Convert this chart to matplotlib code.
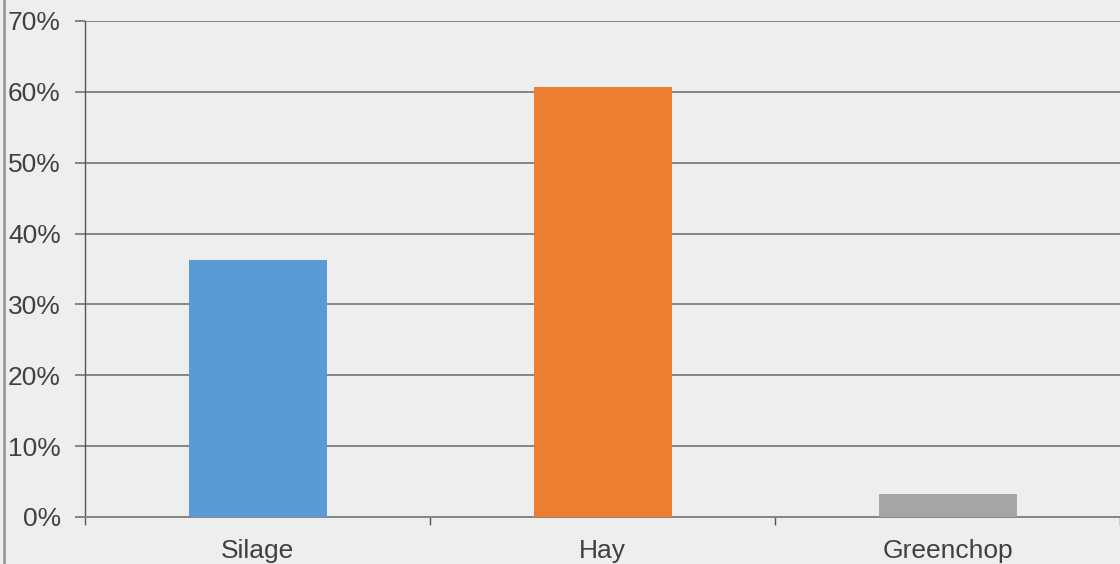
import matplotlib.pyplot as plt
from matplotlib.lines import Line2D
from matplotlib.ticker import FuncFormatter

# Data
categories = ["Silage", "Hay", "Greenchop"]
shares = [36.3, 60.7, 3.25]
colors = ["#5b9bd5", "#ed7d31", "#a5a5a5"]
y_ticks = [0, 10, 20, 30, 40, 50, 60, 70]

plt.rcParams['font.family'] = ['Liberation Sans', 'DejaVu Sans']

fig = plt.figure(figsize=(11.2, 5.64), dpi=100, facecolor="#eeeeee")
ax = fig.add_axes([85 / 1120, 47 / 564, 1 - 85 / 1120, (517 - 21) / 564])
ax.set_facecolor("#eeeeee")

x = list(range(len(categories)))
ax.bar(x, shares, width=0.4, color=colors, zorder=3)

ax.set_xlim(-0.5, len(categories) - 0.5)
ax.set_ylim(0, 70)
ax.set_yticks(y_ticks)
ax.yaxis.set_major_formatter(FuncFormatter(lambda v, p: f"{v:.0f}%"))
ax.grid(axis="y", color="#858585", linewidth=1.4, zorder=1)
ax.set_axisbelow(True)

# category labels in the middle, tick marks at the boundaries
ax.set_xticks(x)
ax.set_xticklabels(categories)
ax.set_xticks([i - 0.5 for i in range(len(categories) + 1)], minor=True)
ax.tick_params(axis="x", which="major", length=0, pad=15.5, labelsize=19, labelcolor="#404040")
ax.tick_params(axis="x", which="minor", length=6, width=1, color="#555555")
ax.tick_params(axis="y", length=7, width=1.4, color="#858585", pad=10.5,
               labelsize=19, labelcolor="#404040")

for side in ["top", "right"]:
    ax.spines[side].set_visible(False)
ax.spines["left"].set_color("#555555")
ax.spines["left"].set_linewidth(1)
ax.spines["bottom"].set_color("#858585")
ax.spines["bottom"].set_linewidth(1.4)

# thin border line on the left edge
fig.add_artist(Line2D([3.5 / 1120, 3.5 / 1120], [0, 1], color="#999999", linewidth=2))

fig.savefig("out.png", dpi=100, facecolor=fig.get_facecolor())
